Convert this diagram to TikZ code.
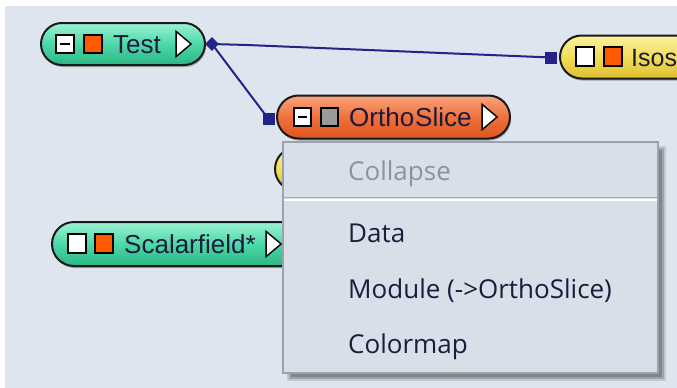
\documentclass[tikz,border=0pt]{standalone}
\usepackage{fontspec}
\setmainfont{Liberation Sans}
\newfontfamily\menufont{Open Sans}
\usetikzlibrary{shapes.misc,shapes.geometric,shadows}
\definecolor{bg}{HTML}{DFE5EF}
\definecolor{menubg}{HTML}{D9DFE9}
\definecolor{menuedge}{HTML}{9CA2AA}
\definecolor{sepgray}{HTML}{A6ACB4}
\definecolor{greytext}{HTML}{8C939C}
\definecolor{itemtext}{HTML}{1C1C3C}
\definecolor{nodetext}{HTML}{1A1A3A}
\definecolor{wire}{HTML}{23238A}
\definecolor{pilledge}{HTML}{1A1A1A}
\definecolor{gTop}{HTML}{9CF2D2}
\definecolor{gMid}{HTML}{4CD8A8}
\definecolor{gBot}{HTML}{2BB585}
\definecolor{oTop}{HTML}{F9A47C}
\definecolor{oMid}{HTML}{F0703C}
\definecolor{oBot}{HTML}{DC5520}
\definecolor{yTop}{HTML}{FBF0A0}
\definecolor{yMid}{HTML}{F3DD58}
\definecolor{yBot}{HTML}{DDBE30}
\definecolor{orangebox}{HTML}{FF5A00}
\definecolor{greybox}{HTML}{9A9A9A}
\begin{document}
\begin{tikzpicture}[x=1pt,y=-1pt,
  pill/.style={rounded rectangle, draw=pilledge, line width=2pt, minimum height=43pt, inner sep=0pt,
    drop shadow={shadow xshift=1pt, shadow yshift=-2pt, opacity=.3, fill=black}},
  greenpill/.style={pill, top color=gTop, bottom color=gBot, middle color=gMid},
  orangepill/.style={pill, top color=oTop, bottom color=oBot, middle color=oMid},
  yellowpill/.style={pill, top color=yTop, bottom color=yBot, middle color=yMid},
  sqbox/.style={draw=black, line width=2.2pt, minimum width=17.5pt, minimum height=18.5pt, inner sep=0pt},
  minusbox/.style={sqbox, fill=white, path picture={\draw[line width=2.4pt] ([xshift=4pt]path picture bounding box.west) -- ([xshift=-4pt]path picture bounding box.east);}},
  whitebox/.style={sqbox, fill=white},
  orbox/.style={sqbox, fill=orangebox},
  grbox/.style={sqbox, fill=greybox},
  lbl/.style={anchor=base west, inner sep=0pt, text=nodetext, font=\fontsize{26}{30}\selectfont},
  tri/.style={isosceles triangle, isosceles triangle apex angle=80, fill=white, draw=black, line width=1.4pt, minimum height=15pt, inner sep=0pt},
  port/.style={rectangle, fill=wire, minimum size=12pt, inner sep=0pt},
  portd/.style={diamond, fill=wire, minimum size=14pt, inner sep=0pt},
  wireline/.style={draw=wire, line width=2pt},
  item/.style={anchor=base west, inner sep=0pt, text=itemtext, font=\menufont\fontsize{26}{30}\selectfont},
]
\useasboundingbox (0,0) rectangle (677,388);
\clip (0,0) rectangle (677,388);
\fill[white] (0,0) rectangle (677,388);
\fill[bg] (5,6) rectangle (677,388);

% ---- nodes (pills)
\node[greenpill, minimum width=164pt, minimum height=42pt] (test) at (123,44) {};
\node[minusbox] (testmin) at (65,44) {};
\node[orbox] (testor) at (93,44) {};
\node[lbl] (testlbl) at (113,53.5) {Test};
\node[tri] (testtri) at (182,44) {};

\node[yellowpill, minimum width=240pt] (isos) at (680,57) {};
\node[whitebox] (isoswb) at (585,56.5) {};
\node[orbox] (isosor) at (613,56.5) {};
\node[lbl, font=\fontsize{25}{30}\selectfont] (isoslbl) at (631,66.5) {Isos};

\node[orangepill, minimum width=233pt] (ortho) at (393.5,117) {};
\node[minusbox] (orthomin) at (302.5,117) {};
\node[grbox] (orthogr) at (329.5,117) {};
\node[lbl] (ortholbl) at (349,126.5) {Ortho\kern1pt Slice};
\node[tri] (orthotri) at (488,117) {};

\node[yellowpill, minimum width=220pt] (hidden) at (385,169) {};

\node[greenpill, minimum width=270pt, minimum height=44pt] (scalar) at (187,244) {};
\node[whitebox] (scalwb) at (77,243.5) {};
\node[orbox] (scalor) at (104,243.5) {};
\node[lbl] (scallbl) at (124,253.5) {Scalarfield*};
\node[tri] (scaltri) at (272,244) {};

% ---- ports and wires
\node[portd] (dtest) at (212,44) {};
\node[port] (portortho) at (268.5,119) {};
\node[port] (portisos) at (551,57.5) {};
\coordinate (bend) at (247,45);
\draw[wireline] (dtest.center) -- (bend) -- (portisos.center);
\draw[wireline] (dtest.center) -- (portortho.center);

% ---- context menu
\fill[black, opacity=.12] (287,146) rectangle (666,381);
\fill[black, opacity=.18] (289,148) rectangle (664,379);
\fill[black, opacity=.18] (291,150) rectangle (662,377);
\node[rectangle, draw=menuedge, line width=1.5pt, fill=menubg, minimum width=375pt, minimum height=231pt, inner sep=0pt] (menu) at (470.5,257.5) {};
\draw[sepgray, line width=1.2pt] ([xshift=2pt,yshift=-56pt]menu.north west) -- ([xshift=-2pt,yshift=-56pt]menu.north east);
\draw[white, line width=1.5pt] ([xshift=2pt,yshift=-58.5pt]menu.north west) -- ([xshift=-2pt,yshift=-58.5pt]menu.north east);
\node[item, text=greytext] (collapse) at (348,180) {Collapse};
\node[item] (data) at (348,242) {Data};
\node[item] (module) at (348,298) {Module (->OrthoSlice)};
\node[item] (colormap) at (348,353) {Colormap};
\end{tikzpicture}
\end{document}
